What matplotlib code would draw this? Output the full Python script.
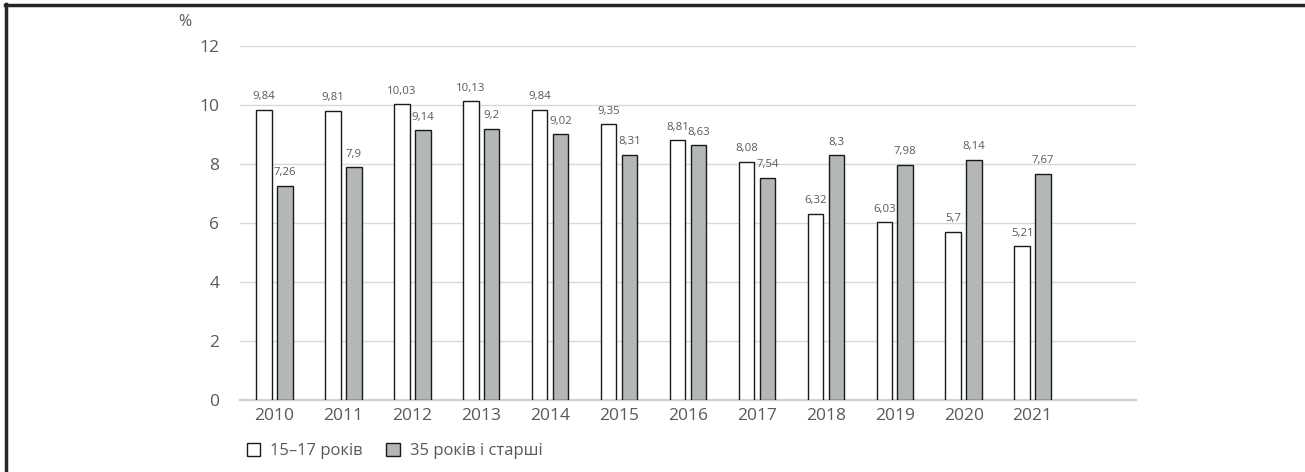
import matplotlib
matplotlib.use('Agg')
import matplotlib.pyplot as plt
from matplotlib.lines import Line2D
from matplotlib.patches import Patch
import numpy as np

plt.rcParams['font.family'] = ['Open Sans', 'DejaVu Sans']

years = ['2010', '2011', '2012', '2013', '2014', '2015',
         '2016', '2017', '2018', '2019', '2020', '2021']
young = [9.84, 9.81, 10.03, 10.13, 9.84, 9.35, 8.81, 8.08, 6.32, 6.03, 5.7, 5.21]
older = [7.26, 7.9, 9.14, 9.2, 9.02, 8.31, 8.63, 7.54, 8.3, 7.98, 8.14, 7.67]
series_names = ['15–17 років', '35 років і старші']
y_ticks = [0, 2, 4, 6, 8, 10, 12]

text_col = '#595959'
grey_fill = '#b4b7b7'

fig = plt.figure(figsize=(13.05, 4.72), dpi=100)
ax = fig.add_axes([240 / 1305, 1 - 400 / 472, 896 / 1305, 354 / 472])

x = np.arange(len(years))
w = 0.225
off = 0.152
b1 = ax.bar(x - off, young, w, color='white', edgecolor='#1a1a1a', linewidth=1.0, zorder=3)
b2 = ax.bar(x + off, older, w, color=grey_fill, edgecolor='#1a1a1a', linewidth=1.0, zorder=3)

def fmt(v):
    return f'{v:g}'.replace('.', ',')

for bars, vals in ((b1, young), (b2, older)):
    for bar, v in zip(bars, vals):
        ax.text(bar.get_x() + bar.get_width() / 2, v + 0.25, fmt(v),
                ha='center', va='bottom', fontsize=8.2, color=text_col)

ax.set_xlim(-0.5, len(years) + 0.5)
ax.set_ylim(0, 12)
ax.set_yticks(y_ticks)
ax.set_xticks(x)
ax.set_xticklabels(years)
ax.tick_params(axis='both', length=0, labelsize=12.5, labelcolor=text_col)
ax.tick_params(axis='y', pad=15)
ax.tick_params(axis='x', pad=6)
ax.grid(axis='y', color='#d9d9d9', linewidth=1.0, zorder=0)
for s in ('top', 'right', 'left'):
    ax.spines[s].set_visible(False)
ax.spines['bottom'].set_color('#d0d0d0')
ax.spines['bottom'].set_linewidth(1.5)

fig.text(185 / 1305, 1 - 22 / 472, '%', fontsize=11.5, color=text_col, ha='center', va='center')

handles = [Patch(facecolor='white', edgecolor='#1a1a1a', linewidth=1.0),
           Patch(facecolor=grey_fill, edgecolor='#1a1a1a', linewidth=1.0)]
fig.legend(handles, series_names, loc='center left',
           bbox_to_anchor=(232 / 1305, 1 - 451 / 472), ncol=2, frameon=False,
           fontsize=12, labelcolor=text_col, handlelength=0.8, handleheight=0.8,
           handletextpad=0.6, columnspacing=1.4)

# frame lines along the top and left edges
fig.add_artist(Line2D([5 / 1305, 1], [1 - 5 / 472, 1 - 5 / 472], color='#262626',
                      linewidth=2.5, transform=fig.transFigure))
fig.add_artist(Line2D([6 / 1305, 6 / 1305], [0, 1 - 4 / 472], color='#262626',
                      linewidth=2.5, transform=fig.transFigure))

fig.savefig('out.png', dpi=100)
